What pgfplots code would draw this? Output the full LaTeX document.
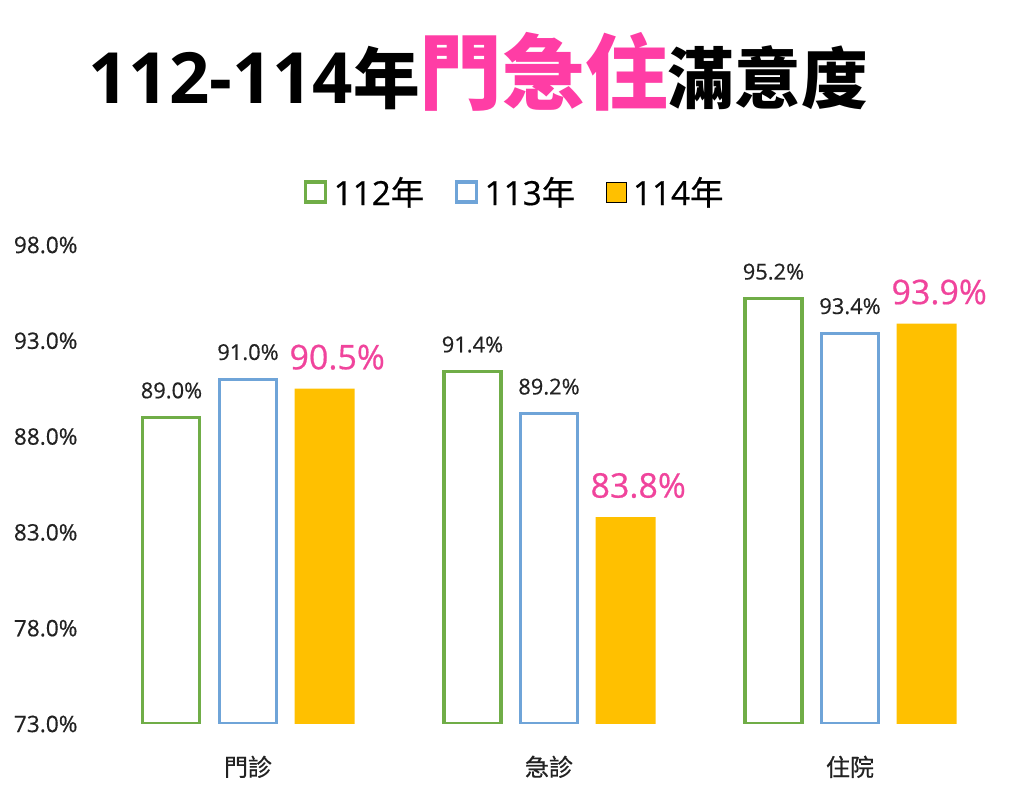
\documentclass[border=0pt]{standalone}
\usepackage{pgfplots}
\pgfplotsset{compat=1.18}
\usepackage{fontspec}
\setmainfont{Open Sans}[UprightFeatures={FakeBold=0.5}]
\newfontfamily\cjk{Noto Sans CJK TC}[UprightFeatures={FakeBold=0.6}]
\newfontfamily\cjkb{Noto Sans CJK TC}
\definecolor{cgreen}{HTML}{70AD47}
\definecolor{cblue}{HTML}{6FA4D8}
\definecolor{corange}{HTML}{FFC000}
\definecolor{tpink}{HTML}{FF3DA5}
\definecolor{lpink}{HTML}{F0449C}
\definecolor{ltxt}{HTML}{222222}
\pgfplotsset{/pgf/number format/assume math mode=true}
\begin{document}
\begin{tikzpicture}
\path[use as bounding box] (-73.125pt,-55.5pt) rectangle (694.875pt,543pt);
\begin{axis}[
  at={(0,0)}, anchor=south west,
  scale only axis, width=677.25pt, height=359.25pt,
  xmin=-0.5, xmax=2.5, ymin=73, ymax=98,
  ybar,
  axis line style={draw=none},
  major tick style={draw=none}, minor tick style={draw=none},
  ytick={73,78,83,88,93,98},
  yticklabel={\pgfmathprintnumber[fixed,fixed zerofill,precision=1]{\tick}\%},
  yticklabel style={font=\fontsize{17}{19}\selectfont, text=ltxt, anchor=east, xshift=-11.5pt},
  xtick={0,1,2},
  xticklabels={門診,急診,住院},
  xticklabel style={font=\cjk\fontsize{18}{22}\selectfont, text=ltxt, yshift=-16pt},
  legend style={at={(0.4624,1.1106)}, anchor=center, draw=none, fill=none,
     legend columns=-1, font=\fontsize{25}{29}\selectfont,
     /tikz/every even column/.append style={column sep=21pt},
     /tikz/every odd column/.append style={column sep=3pt}},
  legend image code/.code={\draw[#1] (0pt,-7.5pt) rectangle (15pt,7.5pt);},
]
\addplot[draw=cgreen, fill=white, line width=2.3pt, bar width=42.75pt, bar shift=-57.4pt,
  nodes near coords={\pgfmathprintnumber[fixed,fixed zerofill,precision=1]{\pgfplotspointmeta}\%},
  every node near coord/.append style={font=\fontsize{16.4}{19}\selectfont, text=ltxt, anchor=south, inner sep=0pt, yshift=13pt}]
  coordinates {(0,89.0) (1,91.4) (2,95.2)};
\addplot[draw=cblue, fill=white, line width=2.3pt, bar width=42.75pt, bar shift=0pt,
  nodes near coords={\pgfmathprintnumber[fixed,fixed zerofill,precision=1]{\pgfplotspointmeta}\%},
  every node near coord/.append style={font=\fontsize{16.4}{19}\selectfont, text=ltxt, anchor=south, inner sep=0pt, yshift=13pt}]
  coordinates {(0,91.0) (1,89.2) (2,93.4)};
\addplot[draw=none, fill=corange, bar width=45pt, bar shift=57.4pt,
  nodes near coords={\pgfmathprintnumber[fixed,fixed zerofill,precision=1]{\pgfplotspointmeta}\%},
  every node near coord/.append style={font=\fontsize{25.5}{29}\selectfont, text=lpink, anchor=south, inner sep=0pt, yshift=14pt, xshift=9.5pt}]
  coordinates {(0,90.5) (1,83.8) (2,93.9)};
\legend{{112{\cjk 年}},{113{\cjk 年}},{114{\cjk 年}}}
\end{axis}
\node[anchor=base west, inner sep=0pt] at (-7pt,465pt)
  {\fontsize{53}{60}\selectfont\bfseries 112-114{\cjkb\fontsize{50}{60}\selectfont\bfseries 年}{\color{tpink}\cjkb\fontsize{62}{70}\selectfont\bfseries 門急住}{\cjkb\fontsize{50}{60}\selectfont\bfseries 滿意度}};
\end{tikzpicture}
\end{document}
